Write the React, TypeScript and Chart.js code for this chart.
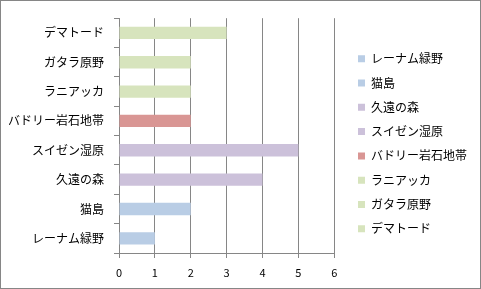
import React, { useEffect, useRef } from "react";
import { Chart, registerables } from "chart.js";

Chart.register(...registerables);

const categories = ["レーナム緑野", "猫島", "久遠の森", "スイゼン湿原", "バドリー岩石地帯", "ラニアッカ", "ガタラ原野", "デマトード"];
const values = [1, 2, 4, 5, 2, 2, 2, 3];
const colors = ["#b9cde5", "#b9cde5", "#ccc1da", "#ccc1da", "#d99694", "#d7e4bd", "#d7e4bd", "#d7e4bd"];
const xTicks = [0, 1, 2, 3, 4, 5, 6];

const FONT = "'Noto Sans CJK JP', sans-serif";

export default function App() {
  const ref = useRef<HTMLCanvasElement | null>(null);
  useEffect(() => {
    const canvas = ref.current;
    if (!canvas) return;
    const datasets = categories.map((name, i) => ({
      label: name,
      data: categories.map((_, j) => (j === i ? values[i] : null)),
      backgroundColor: colors[i],
      borderWidth: 0,
      categoryPercentage: 1,
      barPercentage: 0.42,
    }));
    const chart = new Chart(canvas, {
      type: "bar",
      data: { labels: categories, datasets },
      options: {
        indexAxis: "y",
        animation: false,
        responsive: false,
        layout: { padding: { left: 8, top: 14, right: 3, bottom: 4 } },
        plugins: {
          tooltip: { enabled: false },
          legend: {
            position: "right",
            align: "start",
            maxWidth: 200,
            title: {
              display: true,
              text: "",
              font: { size: 10, lineHeight: 1.2 },
              padding: { top: 13.4, bottom: 0 },
            },
            labels: {
              boxWidth: 7,
              boxHeight: 7,
              padding: 12.3,
              color: "#000",
              font: { family: FONT, size: 12 },
            },
          },
        },
        scales: {
          x: {
            min: 0,
            max: 6,
            stacked: true,
            afterBuildTicks: (axis: any) => {
              axis.ticks = xTicks.map((v) => ({ value: v }));
            },
            afterFit: (axis: any) => {
              axis.height = 31;
            },
            ticks: { color: "#000", font: { family: FONT, size: 11 }, padding: 8 },
            grid: { color: "#868686", tickLength: 5, drawTicks: true },
            border: { color: "#868686" },
          },
          y: {
            stacked: true,
            reverse: true,
            afterFit: (axis: any) => {
              axis.width = 110;
            },
            ticks: { color: "#000", font: { family: FONT, size: 12 }, padding: 10 },
            grid: { drawOnChartArea: false, color: "#868686", tickLength: 5, offset: true },
            border: { color: "#868686" },
          },
          gap: {
            type: "linear",
            position: "right",
            display: true,
            afterFit: (axis: any) => {
              axis.width = 11.5;
            },
            ticks: { display: false },
            grid: { display: false },
            border: { display: false },
          },
        },
      },
    });
    return () => chart.destroy();
  }, []);
  return (
    <div
      style={{
        position: "absolute",
        left: 0,
        top: 0,
        width: 481,
        height: 289,
        border: "1px solid #868686",
        boxSizing: "border-box",
        background: "#fff",
      }}
    >
      <canvas ref={ref} width={479} height={287} style={{ display: "block" }} />
    </div>
  );
}
